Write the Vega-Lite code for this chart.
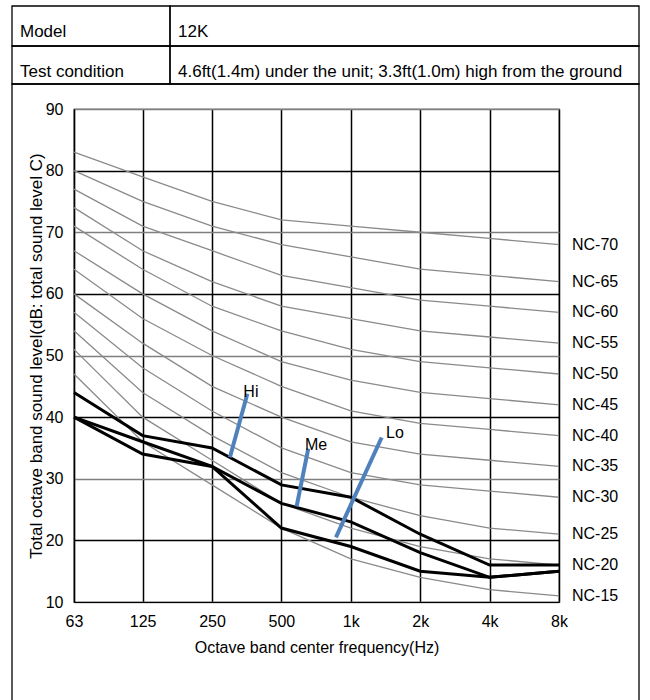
{
  "$schema": "https://vega.github.io/schema/vega-lite/v6.json",
  "width": 485,
  "height": 493,
  "autosize": {"type": "none"},
  "padding": {"left": 74, "top": 109, "right": 91, "bottom": 98},
  "background": "white",
  "config": {
    "font": "Liberation Sans",
    "view": {"stroke": "black", "strokeWidth": 1.2},
    "text": {"font": "Liberation Sans", "color": "black"}
  },
  "datasets": {
    "table": [
      {"r0": 0, "r1": 1, "c0": 0, "c1": 1, "text": "Model"},
      {"r0": 0, "r1": 1, "c0": 1, "c1": 2, "text": "12K"},
      {"r0": 1, "r1": 2, "c0": 0, "c1": 1, "text": "Test condition"},
      {"r0": 1, "r1": 2, "c0": 1, "c1": 2, "text": "4.6ft(1.4m) under the unit; 3.3ft(1.0m) high from the ground"},
      {"r0": 2, "r1": 3, "c0": 0, "c1": 2, "text": ""}
    ],
    "nc": [
      {"nc": "NC-15", "freq": 63, "level": 47}, {"nc": "NC-15", "freq": 125, "level": 36}, {"nc": "NC-15", "freq": 250, "level": 29}, {"nc": "NC-15", "freq": 500, "level": 22}, {"nc": "NC-15", "freq": 1000, "level": 17}, {"nc": "NC-15", "freq": 2000, "level": 14}, {"nc": "NC-15", "freq": 4000, "level": 12}, {"nc": "NC-15", "freq": 8000, "level": 11},
      {"nc": "NC-20", "freq": 63, "level": 51}, {"nc": "NC-20", "freq": 125, "level": 40}, {"nc": "NC-20", "freq": 250, "level": 33}, {"nc": "NC-20", "freq": 500, "level": 26}, {"nc": "NC-20", "freq": 1000, "level": 22}, {"nc": "NC-20", "freq": 2000, "level": 19}, {"nc": "NC-20", "freq": 4000, "level": 17}, {"nc": "NC-20", "freq": 8000, "level": 16},
      {"nc": "NC-25", "freq": 63, "level": 54}, {"nc": "NC-25", "freq": 125, "level": 44}, {"nc": "NC-25", "freq": 250, "level": 37}, {"nc": "NC-25", "freq": 500, "level": 31}, {"nc": "NC-25", "freq": 1000, "level": 27}, {"nc": "NC-25", "freq": 2000, "level": 24}, {"nc": "NC-25", "freq": 4000, "level": 22}, {"nc": "NC-25", "freq": 8000, "level": 21},
      {"nc": "NC-30", "freq": 63, "level": 57}, {"nc": "NC-30", "freq": 125, "level": 48}, {"nc": "NC-30", "freq": 250, "level": 41}, {"nc": "NC-30", "freq": 500, "level": 35}, {"nc": "NC-30", "freq": 1000, "level": 31}, {"nc": "NC-30", "freq": 2000, "level": 29}, {"nc": "NC-30", "freq": 4000, "level": 28}, {"nc": "NC-30", "freq": 8000, "level": 27},
      {"nc": "NC-35", "freq": 63, "level": 60}, {"nc": "NC-35", "freq": 125, "level": 52}, {"nc": "NC-35", "freq": 250, "level": 45}, {"nc": "NC-35", "freq": 500, "level": 40}, {"nc": "NC-35", "freq": 1000, "level": 36}, {"nc": "NC-35", "freq": 2000, "level": 34}, {"nc": "NC-35", "freq": 4000, "level": 33}, {"nc": "NC-35", "freq": 8000, "level": 32},
      {"nc": "NC-40", "freq": 63, "level": 64}, {"nc": "NC-40", "freq": 125, "level": 56}, {"nc": "NC-40", "freq": 250, "level": 50}, {"nc": "NC-40", "freq": 500, "level": 45}, {"nc": "NC-40", "freq": 1000, "level": 41}, {"nc": "NC-40", "freq": 2000, "level": 39}, {"nc": "NC-40", "freq": 4000, "level": 38}, {"nc": "NC-40", "freq": 8000, "level": 37},
      {"nc": "NC-45", "freq": 63, "level": 67}, {"nc": "NC-45", "freq": 125, "level": 60}, {"nc": "NC-45", "freq": 250, "level": 54}, {"nc": "NC-45", "freq": 500, "level": 49}, {"nc": "NC-45", "freq": 1000, "level": 46}, {"nc": "NC-45", "freq": 2000, "level": 44}, {"nc": "NC-45", "freq": 4000, "level": 43}, {"nc": "NC-45", "freq": 8000, "level": 42},
      {"nc": "NC-50", "freq": 63, "level": 71}, {"nc": "NC-50", "freq": 125, "level": 64}, {"nc": "NC-50", "freq": 250, "level": 58}, {"nc": "NC-50", "freq": 500, "level": 54}, {"nc": "NC-50", "freq": 1000, "level": 51}, {"nc": "NC-50", "freq": 2000, "level": 49}, {"nc": "NC-50", "freq": 4000, "level": 48}, {"nc": "NC-50", "freq": 8000, "level": 47},
      {"nc": "NC-55", "freq": 63, "level": 74}, {"nc": "NC-55", "freq": 125, "level": 67}, {"nc": "NC-55", "freq": 250, "level": 62}, {"nc": "NC-55", "freq": 500, "level": 58}, {"nc": "NC-55", "freq": 1000, "level": 56}, {"nc": "NC-55", "freq": 2000, "level": 54}, {"nc": "NC-55", "freq": 4000, "level": 53}, {"nc": "NC-55", "freq": 8000, "level": 52},
      {"nc": "NC-60", "freq": 63, "level": 77}, {"nc": "NC-60", "freq": 125, "level": 71}, {"nc": "NC-60", "freq": 250, "level": 67}, {"nc": "NC-60", "freq": 500, "level": 63}, {"nc": "NC-60", "freq": 1000, "level": 61}, {"nc": "NC-60", "freq": 2000, "level": 59}, {"nc": "NC-60", "freq": 4000, "level": 58}, {"nc": "NC-60", "freq": 8000, "level": 57},
      {"nc": "NC-65", "freq": 63, "level": 80}, {"nc": "NC-65", "freq": 125, "level": 75}, {"nc": "NC-65", "freq": 250, "level": 71}, {"nc": "NC-65", "freq": 500, "level": 68}, {"nc": "NC-65", "freq": 1000, "level": 66}, {"nc": "NC-65", "freq": 2000, "level": 64}, {"nc": "NC-65", "freq": 4000, "level": 63}, {"nc": "NC-65", "freq": 8000, "level": 62},
      {"nc": "NC-70", "freq": 63, "level": 83}, {"nc": "NC-70", "freq": 125, "level": 79}, {"nc": "NC-70", "freq": 250, "level": 75}, {"nc": "NC-70", "freq": 500, "level": 72}, {"nc": "NC-70", "freq": 1000, "level": 71}, {"nc": "NC-70", "freq": 2000, "level": 70}, {"nc": "NC-70", "freq": 4000, "level": 69}, {"nc": "NC-70", "freq": 8000, "level": 68}
    ],
    "measured": [
      {"mode": "Hi", "freq": 63, "level": 44}, {"mode": "Hi", "freq": 125, "level": 37}, {"mode": "Hi", "freq": 250, "level": 35}, {"mode": "Hi", "freq": 500, "level": 29}, {"mode": "Hi", "freq": 1000, "level": 27}, {"mode": "Hi", "freq": 2000, "level": 21}, {"mode": "Hi", "freq": 4000, "level": 16}, {"mode": "Hi", "freq": 8000, "level": 16},
      {"mode": "Me", "freq": 63, "level": 40}, {"mode": "Me", "freq": 125, "level": 36}, {"mode": "Me", "freq": 250, "level": 32}, {"mode": "Me", "freq": 500, "level": 26}, {"mode": "Me", "freq": 1000, "level": 23}, {"mode": "Me", "freq": 2000, "level": 18}, {"mode": "Me", "freq": 4000, "level": 14}, {"mode": "Me", "freq": 8000, "level": 15},
      {"mode": "Lo", "freq": 63, "level": 40}, {"mode": "Lo", "freq": 125, "level": 34}, {"mode": "Lo", "freq": 250, "level": 32}, {"mode": "Lo", "freq": 500, "level": 22}, {"mode": "Lo", "freq": 1000, "level": 19}, {"mode": "Lo", "freq": 2000, "level": 15}, {"mode": "Lo", "freq": 4000, "level": 14}, {"mode": "Lo", "freq": 8000, "level": 15}
    ],
    "pointers": [
      {"mode": "Hi", "freq": 299, "level": 33.5}, {"mode": "Hi", "freq": 356, "level": 43.8},
      {"mode": "Me", "freq": 582, "level": 25.5}, {"mode": "Me", "freq": 654, "level": 34.9},
      {"mode": "Lo", "freq": 862, "level": 20.5}, {"mode": "Lo", "freq": 1361, "level": 36.7}
    ],
    "pointerLabels": [
      {"mode": "Hi", "freq": 342, "level": 44.1},
      {"mode": "Me", "freq": 633, "level": 35.5},
      {"mode": "Lo", "freq": 1421, "level": 37.4}
    ]
  },
  "layer": [
    {
      "data": {"name": "table"},
      "encoding": {
        "x": {"field": "c0", "type": "quantitative", "scale": {"domain": [0, 1, 2], "range": [-62, 96, 565], "nice": false, "zero": false}, "axis": null},
        "y": {"field": "r0", "type": "quantitative", "scale": {"domain": [0, 1, 2, 3], "range": [-103, -63, -25, 600], "nice": false, "zero": false}, "axis": null}
      },
      "layer": [
        {
          "mark": {"type": "rect", "fill": null, "stroke": "black", "strokeWidth": 1.3},
          "encoding": {"x2": {"field": "c1"}, "y2": {"field": "r1"}}
        },
        {
          "mark": {"type": "text", "align": "left", "baseline": "alphabetic", "dx": 8, "dy": 31, "fontSize": 17, "color": "black"},
          "encoding": {"text": {"field": "text"}}
        },
        {
          "data": {"values": [{}]},
          "mark": {"type": "rect", "fill": null, "stroke": "#808080", "strokeWidth": 1.5, "xOffset": 10, "x2Offset": -9, "yOffset": 3, "y2Offset": -48},
          "encoding": {
            "x": {"datum": 0, "type": "quantitative"},
            "x2": {"datum": 2},
            "y": {"datum": 2, "type": "quantitative"},
            "y2": {"datum": 3}
          }
        }
      ]
    },
    {
      "encoding": {
        "x": {
          "field": "freq", "type": "quantitative",
          "scale": {"type": "log", "domain": [63, 8000], "nice": false},
          "axis": {
            "orient": "bottom",
            "values": [63, 125, 250, 500, 1000, 2000, 4000, 8000],
            "labelExpr": "datum.value >= 1000 ? (datum.value / 1000) + 'k' : '' + datum.value",
            "grid": true, "gridColor": "black", "gridWidth": 1.5,
            "ticks": false, "domainColor": "black", "domainWidth": 1.2,
            "labelFontSize": 16, "labelColor": "black", "labelPadding": 11,
            "labelFlush": false, "labelOverlap": false,
            "title": "Octave band center frequency(Hz)",
            "titleFontSize": 16, "titleFontWeight": "normal", "titleColor": "black", "titlePadding": 10
          }
        },
        "y": {
          "field": "level", "type": "quantitative",
          "scale": {"domain": [10, 90], "nice": false, "zero": false},
          "axis": {
            "orient": "left",
            "values": [10, 20, 30, 40, 50, 60, 70, 80, 90],
            "grid": true,
            "gridColor": {"condition": {"test": "datum.value % 20 === 0", "value": "black"}, "value": "#7f7f7f"},
            "gridWidth": 1.3,
            "ticks": false, "domainColor": "black", "domainWidth": 1.2,
            "labelFontSize": 16, "labelColor": "black", "labelPadding": 11,
            "labelFlush": false, "labelOverlap": false,
            "title": "Total octave band sound level(dB: total sound level C)",
            "titleFontSize": 17, "titleFontWeight": "normal", "titleColor": "black", "titlePadding": 0
          }
        }
      },
      "layer": [
        {
          "data": {"name": "nc"},
          "mark": {"type": "line", "color": "#8a8a8a", "strokeWidth": 1.3},
          "encoding": {"detail": {"field": "nc"}}
        },
        {
          "data": {"name": "nc"},
          "transform": [{"filter": "datum.freq == 8000"}],
          "mark": {"type": "text", "align": "left", "baseline": "middle", "dx": 13, "fontSize": 16, "color": "black"},
          "encoding": {"text": {"field": "nc"}}
        },
        {
          "data": {"name": "measured"},
          "mark": {"type": "line", "color": "black", "strokeWidth": 3},
          "encoding": {"detail": {"field": "mode"}}
        },
        {
          "data": {"name": "pointers"},
          "mark": {"type": "line", "color": "#4F81BD", "strokeWidth": 4},
          "encoding": {"detail": {"field": "mode"}}
        },
        {
          "data": {"name": "pointerLabels"},
          "mark": {"type": "text", "align": "left", "baseline": "middle", "fontSize": 16, "color": "black"},
          "encoding": {"text": {"field": "mode"}}
        }
      ]
    }
  ],
  "resolve": {"scale": {"x": "independent", "y": "independent"}}
}
